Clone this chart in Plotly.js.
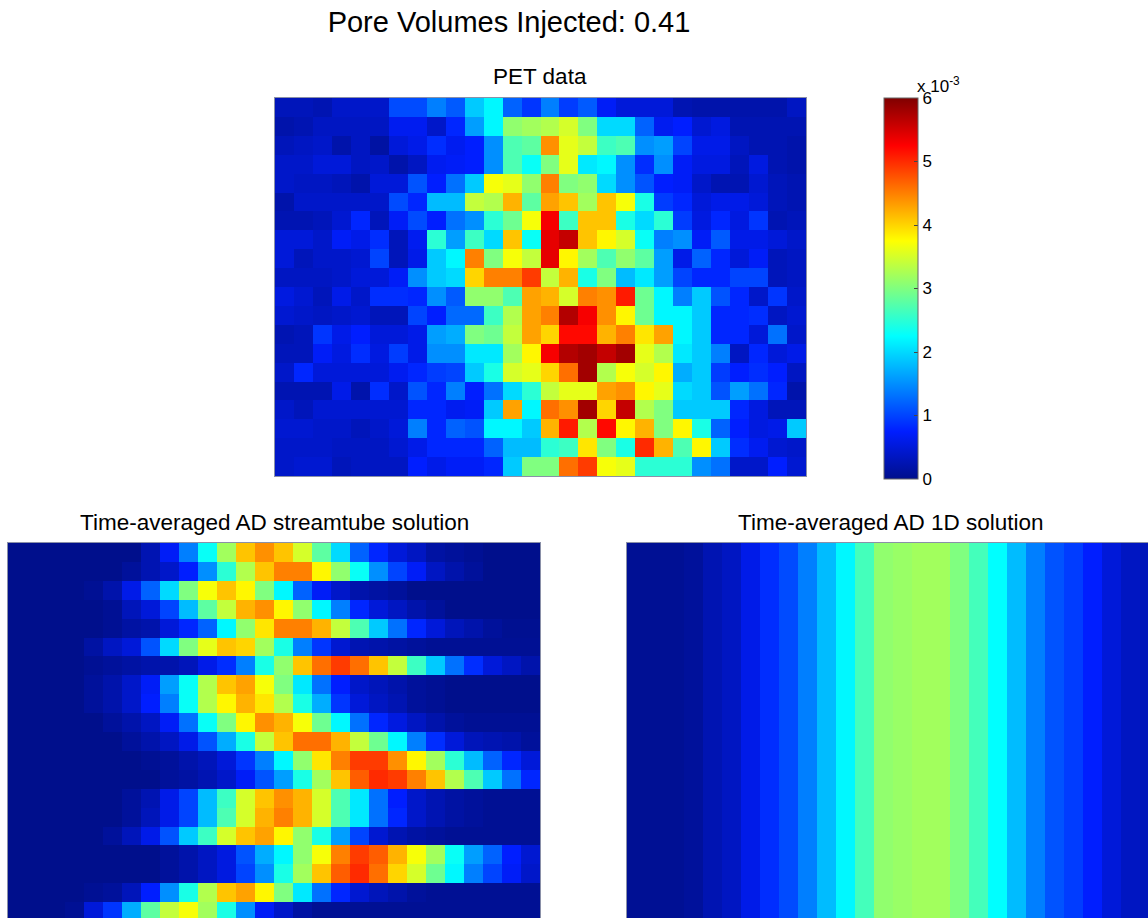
<!DOCTYPE html>
<html>
<head>
<meta charset="utf-8">
<script src="https://cdn.plot.ly/plotly-3.0.1.min.js"></script>
<style>html,body{margin:0;padding:0;background:#fff;overflow:hidden}</style>
</head>
<body>
<div id="chart" style="width:1148px;height:918px"></div>
<script>
// All values in units of 1e-3, as on the colour bar
var petValues = [
[.3,.3,.25,.4,.4,.4,1.05,1.05,1.4,1.15,1.9,2.2,1.2,.9,1.4,.95,1.15,.7,.5,.5,.5,.25,.2,.2,.2,.2,.2,.35],
[.2,.25,.35,.35,.35,.35,.65,.65,.4,.8,1.6,2.2,3.1,3.2,3.3,3.5,3.0,2.0,2.0,1.2,.65,.75,.45,.55,.25,.25,.25,.25],
[.3,.35,.4,.2,.35,.15,.5,.6,.85,.65,.75,1.5,2.7,2.8,4.4,3.6,3.4,2.6,2.7,1.5,1.6,1.0,.6,.6,.35,.25,.25,.2],
[.4,.4,.5,.5,.35,.4,.2,.35,.65,.7,.75,1.5,2.7,2.3,3.0,3.6,2.1,2.2,1.5,.85,1.5,.7,.55,.55,.3,.55,.25,.2],
[.4,.35,.35,.3,.2,.5,.5,1.1,.75,1.3,1.9,3.7,3.6,3.1,4.5,3.0,3.1,2.0,1.5,1.1,.75,.7,.4,.25,.25,.45,.3,.25],
[.2,.4,.4,.4,.4,.4,1.05,.8,1.8,1.8,3.4,3.3,4.2,2.8,4.3,4.1,3.2,4.1,3.7,2.4,.95,.8,.5,.6,.6,.5,.3,.25],
[.25,.25,.3,.45,.8,.3,.7,1.05,.75,1.3,1.5,2.5,2.9,3.7,5.3,2.6,4.1,4.1,2.4,2.0,2.5,.95,.55,.8,.55,.9,.25,.3],
[.5,.5,.4,.7,.6,.85,.3,.65,2.5,1.6,2.6,2.0,4.1,2.3,5.4,5.6,4.1,3.8,3.5,2.3,1.4,1.5,.7,1.15,.6,.6,.5,.4],
[.5,.3,.4,.4,.45,1.0,.3,.6,1.9,2.2,4.5,3.0,3.7,3.4,5.4,3.8,3.2,2.7,3.1,2.8,1.6,.6,1.2,.8,.5,.7,.3,.35],
[.35,.35,.35,.4,.5,.5,.7,1.5,1.9,2.0,4.0,4.5,4.5,4.9,3.4,4.2,2.4,3.0,1.8,2.1,1.6,1.0,.8,.8,1.0,1.0,.3,.35],
[.55,.45,.3,.6,.4,.85,.85,.8,1.5,1.15,3.1,3.1,2.7,4.3,4.2,3.5,4.5,4.4,5.1,2.9,2.2,1.4,1.9,1.1,.8,.4,.9,.4],
[.45,.4,.35,.4,.45,.3,.3,1.0,.75,1.25,1.25,2.6,3.3,4.3,4.5,5.7,5.3,4.4,3.8,2.9,2.2,2.2,1.9,.8,.8,.85,.35,.45],
[.25,.3,.9,.6,.75,.5,.5,.6,1.6,1.7,3.0,2.9,3.4,4.3,4.0,5.2,5.2,4.2,4.5,3.9,4.3,2.2,1.9,.8,.8,.5,1.3,.4],
[.3,.3,.7,.55,.85,.55,.95,.6,1.5,1.5,2.1,2.1,3.2,3.8,5.3,5.7,5.8,5.6,5.8,3.6,3.3,2.1,1.9,1.4,.35,.8,.5,.6],
[.4,.8,.5,.5,.5,.5,.65,.8,.95,1.0,1.9,2.4,3.5,3.6,4.0,4.6,5.8,3.3,3.7,3.5,3.8,1.7,1.9,.95,.75,.85,.75,.35],
[.25,.25,.25,.6,.2,.85,.4,1.1,.8,1.4,.75,1.3,2.0,2.5,3.4,3.6,3.6,4.3,4.4,3.8,3.6,2.0,1.9,1.1,1.6,1.3,.8,.2],
[.4,.3,.45,.45,.45,.45,.45,.8,.8,.65,.7,1.9,4.3,2.2,4.6,4.4,5.8,4.0,5.6,3.3,3.0,1.9,1.9,1.9,.8,.55,.3,.3],
[.45,.45,.4,.4,.3,.4,.5,1.4,.8,1.2,1.1,2.2,2.2,1.9,4.2,5.1,3.3,5.2,3.8,4.2,3.0,3.8,2.4,1.2,.75,.55,.6,1.9],
[.4,.4,.4,.35,.35,.35,.45,.6,.8,.8,.8,1.2,1.8,1.8,2.5,2.6,3.9,3.0,2.4,5.0,4.2,2.7,3.8,1.9,.85,.65,.45,.4],
[.4,.45,.45,.3,.35,.35,.35,.75,.6,.7,.7,.8,1.9,3.0,3.0,4.6,4.9,3.7,3.6,2.5,2.5,2.5,1.5,1.3,.4,.4,.75,.45]
];
var streamtubeValues = [
[0,0,0,0,0,0,0,.25,.7,1.4,2.3,3.2,4.1,4.4,4.1,3.5,2.8,2.0,1.2,.8,.5,.35,.15,.1,.05,0,0,0],
[0,0,0,0,0,0,.1,.25,.4,.75,1.5,2.5,3.3,4.1,4.5,4.5,3.8,3.1,2.3,1.5,1.0,.7,.35,.2,.1,0,0,0],
[0,0,0,0,.05,.2,.6,1.2,2.0,3.0,3.7,4.1,3.8,3.0,2.2,1.2,.7,.4,.2,.15,.1,0,0,0,0,0,0,0],
[0,0,0,0,0,.05,.3,.5,1.0,1.8,2.8,3.4,4.2,4.4,3.8,3.1,2.2,1.4,.8,.5,.35,.2,.1,0,0,0,0,0],
[0,0,0,0,0,.05,.15,.2,.5,.8,1.2,2.2,3.1,3.9,4.5,4.5,4.2,3.4,2.7,1.9,1.3,.8,.5,.3,.2,.1,.03,.03],
[0,0,0,0,.15,.35,.5,1.1,2.0,3.0,3.6,4.1,4.0,3.2,2.4,1.4,.9,.45,.25,.2,.15,.1,.05,.05,.05,.05,.05,.05],
[0,0,0,0,.05,.1,.15,.2,.2,.3,.6,.85,1.4,2.4,3.1,4.1,4.6,4.9,4.6,4.1,3.4,2.6,1.9,1.3,.85,.5,.35,.2],
[0,0,0,0,.1,.2,.4,.7,1.6,2.3,3.3,4.1,4.3,3.7,3.0,2.1,1.3,.75,.4,.3,.2,.1,.05,0,0,0,0,0],
[0,0,0,0,.1,.2,.4,.75,1.4,2.3,3.3,3.8,4.2,3.9,3.3,2.4,1.7,.9,.5,.35,.25,.1,.05,0,0,0,0,0],
[0,0,0,0,0,.1,.2,.35,.7,1.3,2.3,3.0,3.8,4.4,4.2,3.7,2.9,2.2,1.3,.8,.55,.35,.2,.1,.05,.05,.05,.05],
[0,0,0,0,0,0,.1,.2,.35,.6,1.1,1.7,2.4,3.4,4.1,4.6,4.6,4.2,3.4,2.9,2.2,1.4,.85,.5,.3,.25,.2,.1],
[0,0,0,0,0,0,0,.05,.1,.2,.3,.5,.9,1.4,2.2,3.1,3.9,4.5,4.9,4.9,4.4,3.8,3.2,2.5,1.8,1.2,.8,.5],
[0,0,0,0,0,0,0,0,.1,.15,.25,.4,.7,1.1,1.6,2.4,3.2,4.1,4.7,5.0,4.9,4.5,4.1,3.3,2.7,1.9,1.3,.8],
[0,0,0,0,0,0,.1,.25,.6,1.0,1.8,2.6,3.5,4.1,4.4,4.2,3.5,2.7,2.1,1.3,.75,.4,.25,.15,.1,.05,.05,.05],
[0,0,0,0,0,0,.1,.3,.6,1.0,1.8,2.7,3.5,4.2,4.5,4.2,3.5,2.7,2.1,1.3,.8,.4,.25,.15,.1,.05,.05,.05],
[0,0,0,0,0,.1,.3,.6,1.1,1.9,2.6,3.5,4.1,4.3,3.8,3.1,2.4,1.6,1.0,.45,.25,.15,.1,.05,.05,.05,.05,.05],
[0,0,0,0,0,0,0,0,.1,.2,.35,.55,1.1,1.7,2.2,3.1,3.7,4.5,4.9,4.7,4.2,3.7,3.2,2.3,1.6,1.2,.75,.45],
[0,0,0,0,0,0,0,0,.1,.2,.35,.55,1.0,1.5,2.4,3.2,4.1,4.7,5.0,4.6,4.0,3.5,2.9,2.2,1.4,1.0,.7,.4],
[0,0,0,0,.05,.1,.3,.75,1.5,2.4,3.3,4.1,4.3,3.8,3.0,2.1,1.3,.8,.45,.3,.2,.1,.05,.05,.05,.05,.05,.05],
[0,0,0,.05,.5,.9,1.7,2.8,3.4,3.7,3.2,2.4,1.5,.7,.4,.15,.05,.05,.05,.05,.05,.05,.05,.05,.05,.05,.05,.05]
];
var oneDProfile = [.05,.05,.05,.1,.25,.35,.6,.85,1.05,1.4,1.8,2.2,2.65,3.1,3.15,3.2,3.2,3.0,2.65,2.25,1.8,1.4,1.1,.95,.75,.5,.35,.3];
var oneDValues = [];
for (var r = 0; r < 20; r++) oneDValues.push(oneDProfile);

var colorTicks = [0, 1, 2, 3, 4, 5, 6];
var mainTitle = 'Pore Volumes Injected: 0.41';
var panelTitles = ['PET data', 'Time-averaged AD streamtube solution', 'Time-averaged AD 1D solution'];

var W = 1148, H = 918, CW = 19, CH = 18.9;
var FONT = '"Liberation Sans", Arial, sans-serif';
var EDGE = '#8a90a8';
var jet = [[0,'rgb(0,15,140)'],[0.125,'rgb(0,30,255)'],[0.375,'rgb(0,255,255)'],[0.625,'rgb(255,255,0)'],[0.875,'rgb(255,0,0)'],[1,'rgb(128,0,0)']];
function fx(p){return p/W;}
function fy(p){return 1-p/H;}

function trace(z, xa, ya, extra){
  var t = {type:'heatmap', z:z, xaxis:xa, yaxis:ya, colorscale:jet, zmin:0, zmax:6, zsmooth:false, showscale:false, hoverinfo:'skip'};
  for (var k in extra) t[k] = extra[k];
  return t;
}
var data = [
  trace(petValues, 'x', 'y', {showscale:true, colorbar:{
    thickness:34, thicknessmode:'pixels', len:381, lenmode:'pixels',
    x:fx(884), xanchor:'left', y:fy(98), yanchor:'top', xpad:0, ypad:0,
    outlinewidth:1, outlinecolor:'#666', tickmode:'array', tickvals:colorTicks, ticktext:colorTicks.map(String),
    ticks:'inside', ticklen:4, tickcolor:'#444', tickfont:{family:FONT,size:17,color:'#000'}
  }}),
  trace(streamtubeValues, 'x2', 'y2'),
  trace(oneDValues, 'x3', 'y3')
];
function ax(domain, range, extra){
  var a = {domain:domain, range:range, showticklabels:false, ticks:'', showgrid:false, zeroline:false, showline:true, linecolor:EDGE, linewidth:1, fixedrange:true};
  for (var k in extra) a[k] = extra[k];
  return a;
}
var layout = {
  width:W, height:H, margin:{l:0,r:0,t:0,b:0}, paper_bgcolor:'#fff', plot_bgcolor:'#fff', showlegend:false,
  title:{text:mainTitle, x:fx(509), xanchor:'center', y:fy(22), yanchor:'middle', font:{family:FONT,size:29,color:'#000'}},
  xaxis: ax([fx(275),fx(806)],[-0.5,27.5],{anchor:'y',mirror:true}),
  yaxis: ax([fy(476),fy(98)],[19.5,-0.5],{anchor:'x',mirror:true}),
  xaxis2:ax([fx(8),fx(540)],[-0.5,27.5],{anchor:'y2',side:'top'}),
  yaxis2:ax([0,fy(543)],[(H-543)/CH-0.5,-0.5],{anchor:'x2',mirror:true}),
  xaxis3:ax([fx(627),1],[-0.5,(W-627)/CW-0.5],{anchor:'y3',side:'top'}),
  yaxis3:ax([0,fy(543)],[(H-543)/CH-0.5,-0.5],{anchor:'x3'}),
  annotations:[
    {text:panelTitles[0],x:fx(540),y:fy(77),xref:'paper',yref:'paper',xanchor:'center',yanchor:'middle',showarrow:false,font:{family:FONT,size:22.5,color:'#000'}},
    {text:panelTitles[1],x:fx(274),y:fy(522),xref:'paper',yref:'paper',xanchor:'center',yanchor:'middle',showarrow:false,font:{family:FONT,size:22.5,color:'#000'}},
    {text:panelTitles[2],x:fx(891),y:fy(522),xref:'paper',yref:'paper',xanchor:'center',yanchor:'middle',showarrow:false,font:{family:FONT,size:22.5,color:'#000'}},
    {text:'x 10<sup>-3</sup>',x:fx(915),y:fy(85),xref:'paper',yref:'paper',xanchor:'left',yanchor:'middle',showarrow:false,font:{family:FONT,size:17,color:'#000'}}
  ]
};
Plotly.newPlot('chart', data, layout, {displayModeBar:false, staticPlot:true});
</script>
</body>
</html>
